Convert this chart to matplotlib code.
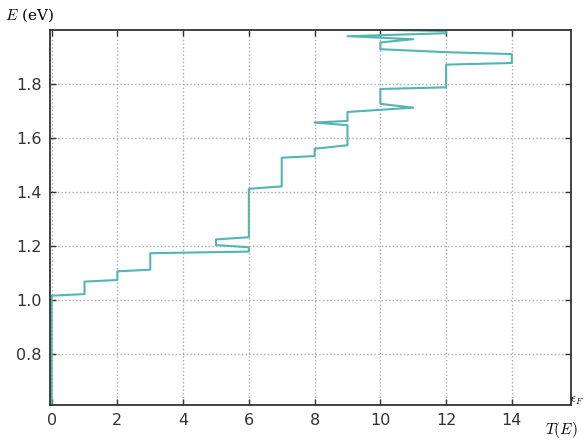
import matplotlib
matplotlib.use("Agg")
import matplotlib.pyplot as plt

# transmission T(E) (number of channels) vs energy E in eV, traced upward
T_vals = [0, 0, 1, 1, 2, 2, 3, 3, 6, 6, 5, 5, 6, 6, 7, 7, 8, 8, 9, 9,
          8, 9, 9, 11, 10, 10, 12, 12, 14, 14, 12, 10, 10, 11, 9, 12, 12, 10]
E_vals = [0.60, 1.016, 1.022, 1.068, 1.074, 1.106, 1.112, 1.173, 1.179, 1.195,
          1.203, 1.224, 1.232, 1.411, 1.420, 1.526, 1.532, 1.559, 1.572, 1.646,
          1.656, 1.662, 1.695, 1.711, 1.725, 1.780, 1.786, 1.870, 1.876, 1.909,
          1.916, 1.927, 1.952, 1.964, 1.975, 1.986, 1.994, 1.999]

x_ticks = [0, 2, 4, 6, 8, 10, 12, 14]
y_ticks = [0.8, 1.0, 1.2, 1.4, 1.6, 1.8]

plt.rcParams['mathtext.fontset'] = 'cm'

fig = plt.figure(figsize=(5.85, 4.41), dpi=100)
ax = fig.add_axes([50 / 585, 1 - 405 / 441, 521 / 585, 375 / 441])

ax.plot(T_vals, E_vals, color='#55b4b4', lw=1.5)

ax.set_xlim(-0.05, 15.8)
ax.set_ylim(0.612, 1.998)
ax.set_xticks(x_ticks)
ax.set_yticks(y_ticks)
ax.set_xticklabels([str(t) for t in x_ticks])
ax.set_yticklabels(['%.1f' % t for t in y_ticks])
ax.tick_params(direction='in', top=True, right=True, length=4, width=1,
               labelsize=11.5, pad=6, colors='#333333')
ax.grid(True, linestyle=':', color='#aaaaaa', lw=1)
for s in ax.spines.values():
    s.set_color('#333333')
    s.set_linewidth(1.3)

fig.text(5 / 585, 1 - 15 / 441, r'$E$ (eV)', fontsize=11, family='serif',
         va='center', ha='left', math_fontfamily='cm')
fig.text(578 / 585, 1 - 430 / 441, r'$T(E)$', fontsize=11,
         va='center', ha='right')
fig.text(584 / 585, 1 - 401 / 441, r'$\epsilon_F$', fontsize=9,
         va='center', ha='right')

fig.savefig('out.png', dpi=100)
